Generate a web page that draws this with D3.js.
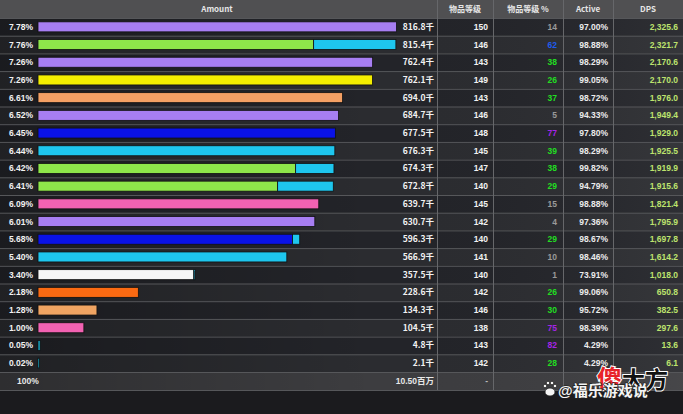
<!DOCTYPE html>
<html><head><meta charset="utf-8">
<script src="https://cdn.jsdelivr.net/npm/d3@7/dist/d3.min.js"></script>
<style>
html,body{margin:0;padding:0;background:#1c1c1f;}
svg{display:block;}
text{font-family:"Liberation Sans Narrow","Liberation Sans","Noto Sans CJK SC",sans-serif;}
</style></head>
<body>
<svg id="c" width="683" height="414"></svg>
<script>
const pctLabels = ["7.78%","7.76%","7.26%","7.26%","6.61%","6.52%","6.45%","6.44%","6.42%","6.41%","6.09%","6.01%","5.68%","5.40%","3.40%","2.18%","1.28%","1.00%","0.05%","0.02%"];
const amountLabels = ["816.8千","815.4千","762.4千","762.1千","694.0千","684.7千","677.5千","676.3千","674.3千","672.8千","639.7千","630.7千","596.3千","566.9千","357.5千","228.6千","134.3千","104.5千","4.8千","2.1千"];
const primaryVals = [816.8,628.0,762.4,762.1,694.0,684.7,677.5,676.3,587.0,546.0,639.7,630.7,580.0,566.9,355.0,228.6,134.3,104.5,4.8,2.1];
const secondaryVals = [0,187.4,0,0,0,0,0,0,87.3,126.8,0,0,16.3,0,2.5,0,0,0,0,0];
const barColors = ["#a77ef2","#8ee64a","#a77ef2","#f4ee00","#f4a064","#a77ef2","#0a12e6","#1ec6ee","#8ee64a","#8ee64a","#f262b2","#a77ef2","#0a12e6","#1ec6ee","#f6f6f6","#fb6a12","#f0a462","#f262b2","#1ab8d8","#1ab8d8"];
const secondaryColor = "#1ec6ee";
const itemLevels = ["150","146","143","149","143","146","148","145","147","140","145","142","140","141","140","142","146","138","143","142"];
const itemLevelPct = [14,62,38,26,37,5,77,39,38,29,15,4,29,10,1,26,30,75,82,28];
const activeLabels = ["97.00%","98.88%","98.29%","99.05%","98.72%","94.33%","97.80%","98.29%","99.82%","94.79%","98.88%","97.36%","98.67%","98.46%","73.91%","99.06%","95.72%","98.39%","4.29%","4.29%"];
const dpsLabels = ["2,325.6","2,321.7","2,170.6","2,170.0","1,976.0","1,949.4","1,929.0","1,925.5","1,919.9","1,915.6","1,821.4","1,795.9","1,697.8","1,614.2","1,018.0","650.8","382.5","297.6","13.6","6.1"];
const headers = ["Amount","物品等级","物品等级 %","Active","DPS"];
const totalLabels = {pct:"100%", amount:"10.50百万", ilvl:"-"};

const svg = d3.select("#c");
const W = 683, H = 414;
const colEdges = [0,437,493,563,613,683];
const headerH = 18;

const y = d3.scaleBand().domain(d3.range(pctLabels.length)).range([18,372]).paddingInner(0);
const x = d3.scaleLinear().domain([0,816.8]).range([38,396.5]);

// background
svg.append("rect").attr("width",W).attr("height",H).attr("fill","#1b1b1e");
// header
svg.append("rect").attr("x",0).attr("y",0).attr("width",W).attr("height",headerH).attr("fill","#505052");
// rows
const rows = svg.append("g");
rows.selectAll("rect").data(pctLabels).join("rect")
  .attr("x",0).attr("y",(d,i)=>y(i)).attr("width",W).attr("height",y.bandwidth())
  .attr("fill",(d,i)=> i%2===0 ? "#232429" : "#2b2c30");
// total row
const totY = 372, totH = 18;
svg.append("rect").attr("x",0).attr("y",totY).attr("width",W).attr("height",totH).attr("fill","#3d3d40");

// shading gradient (photo vignette)
const defs = svg.append("defs");
const g1 = defs.append("linearGradient").attr("id","vig").attr("x1","0").attr("x2","1").attr("y1","0").attr("y2","0");
g1.append("stop").attr("offset","0").attr("stop-color","#000").attr("stop-opacity",0.25);
g1.append("stop").attr("offset","0.55").attr("stop-color","#000").attr("stop-opacity",0.0);
g1.append("stop").attr("offset","1").attr("stop-color","#fff").attr("stop-opacity",0.05);
svg.append("rect").attr("x",0).attr("y",18).attr("width",W).attr("height",372).attr("fill","url(#vig)");

// separators
svg.append("g").selectAll("line").data(d3.range(pctLabels.length+1)).join("line")
  .attr("x1",0).attr("x2",W)
  .attr("y1",i=> (i<pctLabels.length? y(i) : 372)+0.5).attr("y2",i=> (i<pctLabels.length? y(i) : 372)+0.5)
  .attr("stroke","#56575a").attr("stroke-width",1);
svg.append("line").attr("x1",0).attr("x2",W).attr("y1",390.5).attr("y2",390.5).attr("stroke","#56575a");
svg.append("g").selectAll("line").data(colEdges.slice(1,-1)).join("line")
  .attr("x1",d=>d+0.5).attr("x2",d=>d+0.5).attr("y1",0).attr("y2",390)
  .attr("stroke","#66676a").attr("stroke-width",1);

// headers
const headerCenters = colEdges.slice(0,-1).map((e,i)=> i===0 ? 217 : (e+colEdges[i+1])/2);
svg.append("g").selectAll("text").data(headers).join("text")
  .attr("x",(d,i)=>headerCenters[i]).attr("y",12)
  .attr("text-anchor","middle").attr("fill","#e6e6e6")
  .attr("font-size",8).attr("font-weight","bold")
  .style("font-family",'"Noto Sans CJK SC","Liberation Sans",sans-serif')
  .text(d=>d);

// bars
const bh = 10;
const bars = svg.append("g");
bars.selectAll("rect.p").data(primaryVals).join("rect").attr("class","p")
  .attr("x",x(0)).attr("y",(d,i)=>y(i)+(y.bandwidth()-bh)/2)
  .attr("width",d=>Math.max(1.5,x(d)-x(0))).attr("height",bh)
  .attr("fill",(d,i)=>barColors[i]).attr("stroke","#111").attr("stroke-width",0.8);
const secIdx = d3.range(secondaryVals.length).filter(i=>secondaryVals[i]>0);
bars.selectAll("rect.s").data(secIdx).join("rect").attr("class","s")
  .attr("x",i=>x(primaryVals[i]))
  .attr("y",i=>y(i)+(y.bandwidth()-bh)/2)
  .attr("width",i=>x(secondaryVals[i])-x(0)).attr("height",bh)
  .attr("fill",secondaryColor).attr("stroke","#111").attr("stroke-width",0.8);

const ty = i => y(i)+y.bandwidth()/2+3;
const tf = (sel)=> sel.attr("font-size",8.5).attr("font-weight","bold");

// percent labels
tf(svg.append("g").selectAll("text").data(pctLabels).join("text")
  .attr("x",33).attr("y",(d,i)=>ty(i)).attr("text-anchor","end").attr("fill","#f2f2f2").text(d=>d));
// amount labels
tf(svg.append("g").selectAll("text").data(amountLabels).join("text")
  .attr("x",434).attr("y",(d,i)=>ty(i)).attr("text-anchor","end").attr("fill","#f2f2f2")
  .style("font-family",'"Liberation Sans Narrow","Noto Sans CJK SC",sans-serif').text(d=>d));
// item level
tf(svg.append("g").selectAll("text").data(itemLevels).join("text")
  .attr("x",488).attr("y",(d,i)=>ty(i)).attr("text-anchor","end").attr("fill","#f2f2f2").text(d=>d));
// item level %
const pctColor = v => v>=75 ? "#a425e6" : v>=50 ? "#1f5cf0" : v>=25 ? "#22dd22" : "#9a9a9a";
tf(svg.append("g").selectAll("text").data(itemLevelPct).join("text")
  .attr("x",557).attr("y",(d,i)=>ty(i)).attr("text-anchor","end").attr("fill",d=>pctColor(d)).text(d=>d));
// active
tf(svg.append("g").selectAll("text").data(activeLabels).join("text")
  .attr("x",608).attr("y",(d,i)=>ty(i)).attr("text-anchor","end").attr("fill","#ececec").text(d=>d));
// dps
tf(svg.append("g").selectAll("text").data(dpsLabels).join("text")
  .attr("x",678).attr("y",(d,i)=>ty(i)).attr("text-anchor","end").attr("fill","#bde36e").text(d=>d));

// totals
const tyT = totY + totH/2 + 3;
tf(svg.append("text").attr("x",17).attr("y",tyT).attr("fill","#e8e8e8").text(totalLabels.pct));
tf(svg.append("text").attr("x",434).attr("y",tyT).attr("text-anchor","end").attr("fill","#e8e8e8").text(totalLabels.amount));
tf(svg.append("text").attr("x",488).attr("y",tyT).attr("text-anchor","end").attr("fill","#bbb").text(totalLabels.ilvl));

// watermark
const wm = svg.append("g").style("font-family",'"Noto Sans CJK SC",sans-serif').attr("font-weight","bold");
wm.append("text").attr("x",597).attr("y",388).attr("font-size",25)
  .attr("fill","#e8222a").attr("stroke","#fff").attr("stroke-width",2).attr("paint-order","stroke").text("傻");
wm.append("text").attr("x",622).attr("y",388).attr("font-size",23)
  .attr("fill","#111").attr("stroke","#fff").attr("stroke-width",2).attr("paint-order","stroke").text("大方");
// paw icon drawn as circles
const paw = wm.append("g").attr("transform","translate(550,390)").attr("fill","#f4f4f4").attr("stroke","#222").attr("stroke-width",0.8);
paw.append("ellipse").attr("cx",0).attr("cy",2).attr("rx",5).attr("ry",4);
[[-5,-4],[-2,-7],[2,-7],[5,-4]].forEach(p=>paw.append("circle").attr("cx",p[0]).attr("cy",p[1]).attr("r",1.8));
wm.append("text").attr("x",558).attr("y",396).attr("font-size",15)
  .attr("fill","#f4f4f4").attr("stroke","#222").attr("stroke-width",1.4).attr("paint-order","stroke").text("@福乐游戏说");
</script>
</body></html>
